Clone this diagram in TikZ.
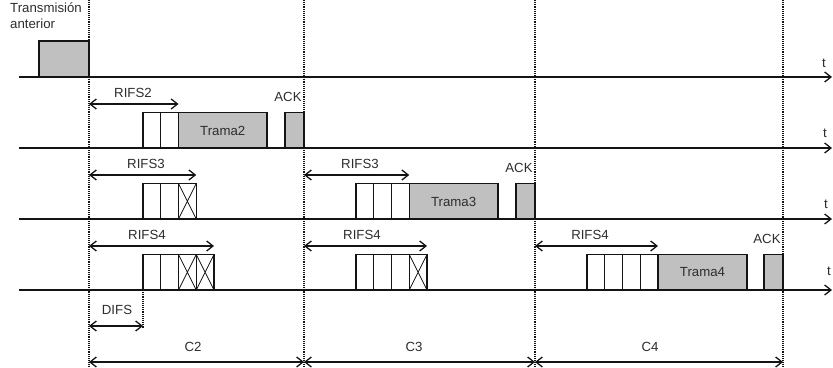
\documentclass[tikz,border=0pt]{standalone}
\usepackage{fontspec}
\setmainfont{Liberation Sans}
\usetikzlibrary{arrows.meta}
\definecolor{slot}{RGB}{192,192,192}
\definecolor{ink}{RGB}{20,20,20}
\definecolor{txt}{RGB}{45,45,45}
\tikzset{
  >={Straight Barb[length=1.9mm,width=3mm,line width=1.1pt]},
  axis/.style={->,line width=1.3pt,draw=ink},
  span/.style={<->,line width=1.1pt,draw=ink},
  guide/.style={line width=0.9pt,dash pattern=on 0.8pt off 0.8pt,draw=ink},
  cell/.style={draw=ink,fill=white,line width=1.1pt},
  frame/.style={draw=ink,fill=slot,line width=1.1pt},
  cross/.style={draw=ink,line width=0.6pt},
  lbl/.style={font=\fontsize{11.3}{13.2}\selectfont,text=txt,inner sep=0pt},
}
\begin{document}
\begin{tikzpicture}[x=0.3mm,y=-0.3mm]
  \useasboundingbox (0,0) rectangle (833,368);
  % dotted guides
  \foreach \n/\x in {ga/89,gb/304,gc/535,gd/783}{
    \coordinate (\n-top) at (\x,0); \coordinate (\n-bot) at (\x,366);
    \coordinate (\n-c) at (\x,362);
    \draw[guide] (\n-top) -- (\n-bot);
  }
  % time axes
  \foreach \r/\y/\tx/\ty in {1/77/824/63,2/148/825/133,3/219/826/204,4/290/829/271}{
    \coordinate (ax\r) at (19,\y); \coordinate (tip\r) at (832,\y);
    \draw[axis] (ax\r) -- (tip\r);
    \node[lbl] (t\r) at (\tx,\ty) {t};
  }
  \draw[frame] (39,77) rectangle (89,41);
  \node[lbl,anchor=north west,align=left] (prev) at (10,3) {Transmisión\\anterior};
  % backoff slots (0 = free, 1 = collided)
  \foreach \s/\y/\cells in {143/148/{0,0},143/219/{0,0,1},356/219/{0,0,0},
      143/290/{0,0,1,1},356/290/{0,0,0,1},587/290/{0,0,0,0}}{
    \foreach \c [count=\i from 0] in \cells {
      \draw[cell] (\s+\i*17.75,\y) rectangle ++(17.75,-35.5);
      \ifnum\c=1 \draw[cross] (\s+\i*17.75,\y) -- ++(17.75,-35.5) ++(-17.75,0) -- ++(17.75,35.5); \fi
    }
  }
  % frames and acks
  \foreach \a/\b/\y/\t in {178.5/267/148/Trama2,409.25/498/219/Trama3,658/747/290/Trama4}{
    \draw[frame] (\a,\y) rectangle (\b,\y-35.5);
    \node[lbl] (\t) at ({(\a+\b)/2},\y-17.5) {\t};
  }
  \foreach \a/\b/\y [count=\k] in {285/304/148,516/535/219,764/783/290}{
    \draw[frame] (\a,\y) rectangle (\b,\y-35.5);
    \node[lbl] (ack\k) at (\b-16,\y-51.5) {ACK};
  }
  % RIFS spans
  \foreach \g/\e/\y/\t/\lx [count=\k] in {89/178.5/104/RIFS2/133,89/196.25/175/RIFS3/146,
      304/409.25/175/RIFS3/360,89/214/246/RIFS4/147,304/427/246/RIFS4/362,535/658/246/RIFS4/590}{
    \coordinate (rs\k) at (\g,\y); \coordinate (re\k) at (\e,\y);
    \draw[span] (rs\k) -- (re\k);
    \node[lbl] (rifs\k) at (\lx,\y-11) {\t};
  }
  % DIFS and cycles
  \coordinate (difs) at (143,290); \coordinate (difs-bot) at (143,328);
  \coordinate (dl) at (89,326); \coordinate (dr) at (143,326);
  \draw[guide] (difs) -- (difs-bot);
  \draw[span] (dl) -- (dr);
  \node[lbl] (difslbl) at (117,310) {DIFS};
  \foreach \p/\q/\t/\lx in {ga/gb/C2/193,gb/gc/C3/414,gc/gd/C4/650}{
    \draw[span] (\p-c) -- (\q-c);
    \node[lbl] (\t) at (\lx,347) {\t};
  }
\end{tikzpicture}
\end{document}
